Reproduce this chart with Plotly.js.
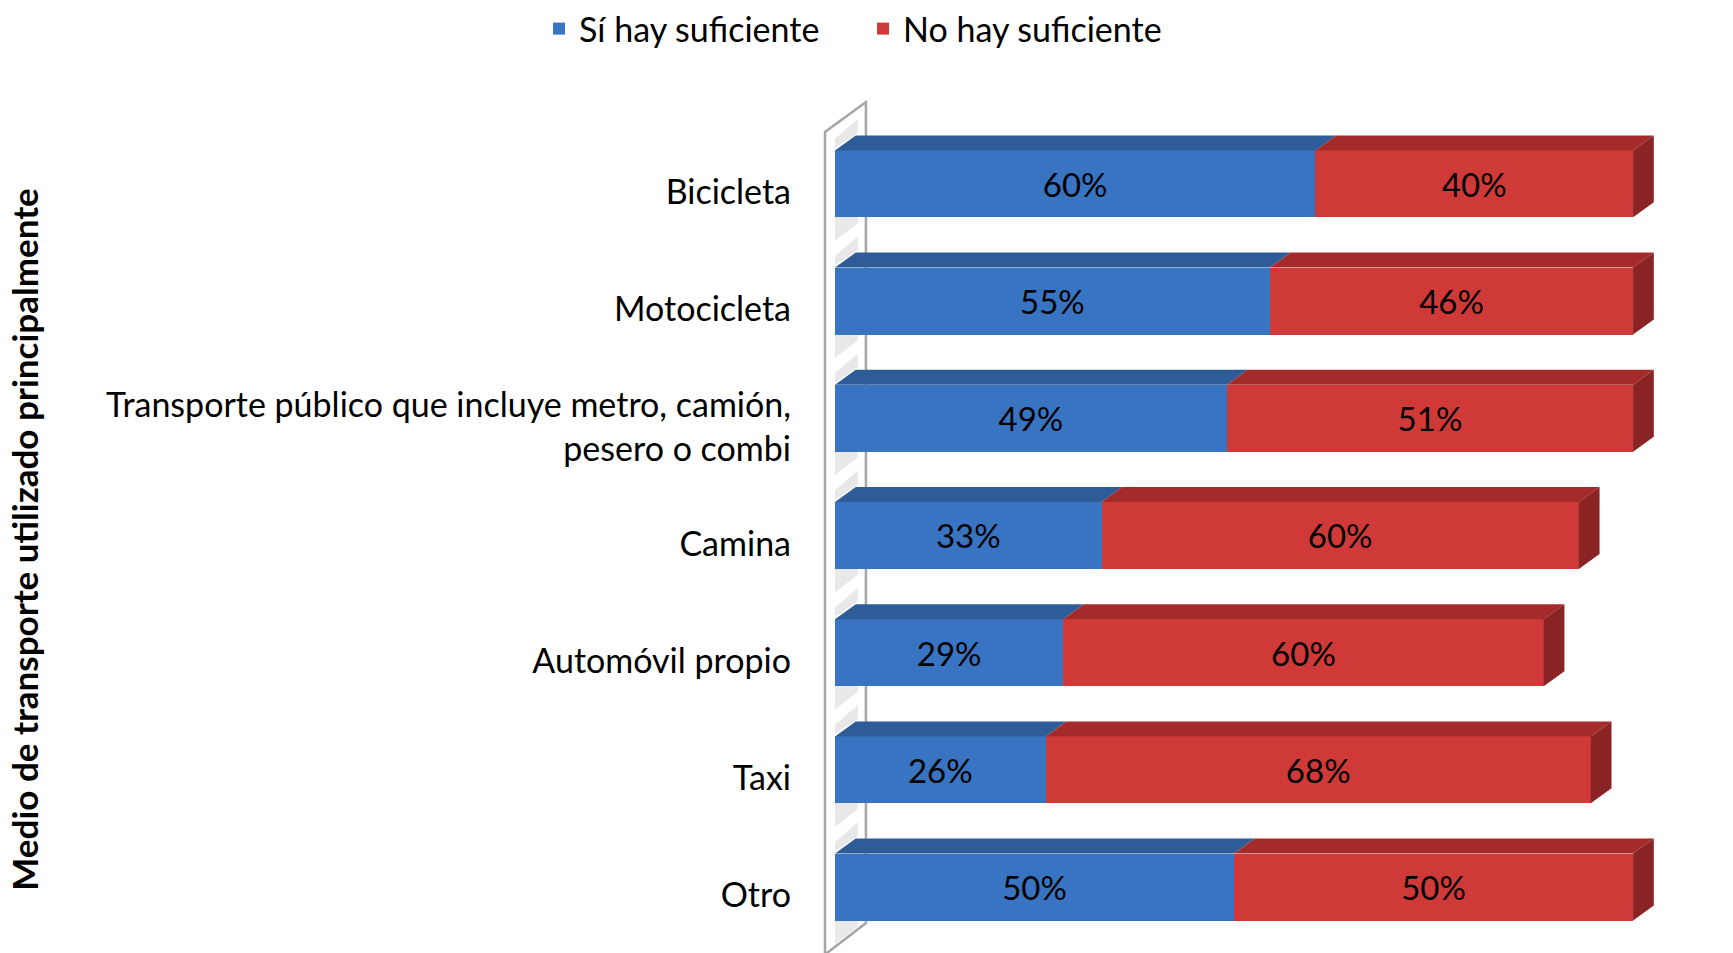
<!DOCTYPE html>
<html>
<head>
<meta charset="utf-8">
<script src="https://cdn.plot.ly/plotly-3.0.1.min.js"></script>
<style>html,body{margin:0;padding:0;background:#fff;}#chart{width:1733px;height:953px;}</style>
</head>
<body>
<div id="chart"></div>
<script>
const categories = ['Bicicleta', 'Motocicleta', 'Transporte público que incluye metro, camión,<br>pesero o combi', 'Camina', 'Automóvil propio', 'Taxi', 'Otro'];
const siValues = [60.2, 54.5, 49.1, 33.4, 28.6, 26.4, 50.0];
const noValues = [39.8, 45.5, 50.9, 59.8, 60.2, 68.3, 50.0];
const seriesNames = ['Sí hay suficiente', 'No hay suficiente'];
const yTitle = 'Medio de transporte utilizado principalmente';

const FONT = 'Lato, "Open Sans", sans-serif';
const positions = categories.map((c, i) => i);
const OFF = -0.358, W = 0.571;
const DX = 2.6, DY = 0.128;
const colors = {si: '#3874C2', no: '#CF3A38', siTop: '#2E5C98', noTop: '#A52B2B', noSide: '#8A2424'};

const common = {
  type: 'bar', orientation: 'h', y: positions, offset: OFF, width: W,
  texttemplate: '%{x:.0f}%', textposition: 'inside', insidetextanchor: 'middle',
  textangle: 0, constraintext: 'none', hoverinfo: 'skip',
  textfont: {family: FONT, size: 33, color: '#000'}
};
const traces = [
  Object.assign({}, common, {x: siValues, name: seriesNames[0], marker: {color: colors.si, line: {width: 0}}}),
  Object.assign({}, common, {x: noValues, name: seriesNames[1], marker: {color: colors.no, line: {width: 0}}})
];

const shapes = [];
// wall
shapes.push({type: 'path', xref: 'x', yref: 'y', layer: 'below',
  path: 'M -1.25,6.49 L -1.25,-0.515 L 3.88,-0.77 L 3.88,6.235 L -1.0,6.49 Z',
  fillcolor: '#ffffff', line: {color: '#A6A6A6', width: 2.5}});
positions.forEach(i => {
  const yT = i + OFF, yB = yT + W;
  // wall shadow under bars
  shapes.push({type: 'path', xref: 'x', yref: 'y', layer: 'below',
    path: `M 0,${yB} L ${DX*1.1},${yB - DY} L ${DX*1.1},${yB + 0.05} L 0,${yB + 0.2} Z`,
    fillcolor: 'rgba(150,150,150,0.22)', line: {width: 0}});
  shapes.push({type: 'path', xref: 'x', yref: 'y', layer: 'below',
    path: `M 0,${yT - 0.02} L ${DX*1.1},${yT - DY - 0.02} L ${DX*1.1},${yT - DY - 0.14} L 0,${yT - 0.1} Z`,
    fillcolor: 'rgba(150,150,150,0.22)', line: {width: 0}});
  const segs = [[0, siValues[i], colors.siTop], [siValues[i], siValues[i] + noValues[i], colors.noTop]];
  segs.forEach(s => {
    shapes.push({type: 'path', xref: 'x', yref: 'y', layer: 'above',
      path: `M ${s[0]},${yT} L ${s[1]},${yT} L ${s[1] + DX},${yT - DY} L ${s[0] + DX},${yT - DY} Z`,
      fillcolor: s[2], line: {width: 0}});
  });
  const xe = siValues[i] + noValues[i];
  shapes.push({type: 'path', xref: 'x', yref: 'y', layer: 'above',
    path: `M ${xe},${yT} L ${xe + DX},${yT - DY} L ${xe + DX},${yB - DY} L ${xe},${yB} Z`,
    fillcolor: colors.noSide, line: {width: 0}});
});

const layout = {
  width: 1733, height: 953,
  margin: {l: 823, r: 72, t: 100, b: 0},
  barmode: 'stack',
  paper_bgcolor: '#fff', plot_bgcolor: 'rgba(0,0,0,0)',
  font: {family: FONT, color: '#000'},
  xaxis: {range: [-1.5, 103.5], visible: false, fixedrange: true},
  yaxis: {range: [6.49, -0.788], tickmode: 'array', tickvals: positions, ticktext: categories,
    showgrid: false, zeroline: false, showline: false, ticks: '', ticklabelstandoff: 31,
    tickfont: {family: FONT, size: 34, color: '#000'}, fixedrange: true},
  showlegend: true,
  legend: {orientation: 'h', xref: 'container', yref: 'container', x: 0.498, xanchor: 'center',
    y: 1, yanchor: 'top', font: {family: FONT, size: 34, color: '#000'}, traceorder: 'normal',
    entrywidth: 279, entrywidthmode: 'pixels'},
  shapes: shapes,
  annotations: [{text: '<b>' + yTitle + '</b>', xref: 'paper', yref: 'paper', x: -0.953, y: 0.485,
    xanchor: 'center', yanchor: 'middle', textangle: -90, showarrow: false,
    font: {family: FONT, size: 35, color: '#000'}}]
};

Plotly.newPlot('chart', traces, layout, {displayModeBar: false, staticPlot: true});
</script>
</body>
</html>
